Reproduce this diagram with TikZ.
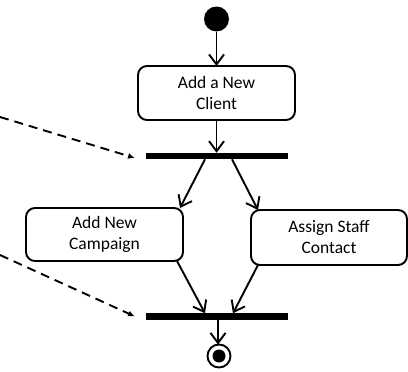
\documentclass[tikz,border=0pt]{standalone}
\usepackage{fontspec}
\setmainfont{Carlito}
\usetikzlibrary{arrows.meta}
\begin{document}
\begin{tikzpicture}[x=1pt,y=-1pt,
  every node/.style={inner sep=0pt, outer sep=0pt},
  action/.style={draw, line width=1.9pt, rounded corners=9pt, align=center,
    font=\fontsize{17.5}{21}\selectfont},
  bar/.style={fill=black, minimum width=142pt, minimum height=6.5pt},
  flow/.style={line width=1.9pt, -{Straight Barb[length=10pt,width=15pt,line width=1.9pt]}},
  note/.style={line width=1.9pt, dash pattern=on 9pt off 6pt,
    -{Latex[length=7pt,width=6pt]}}]
  \useasboundingbox (0,0) rectangle (408,372);

  % initial and final states
  \node[circle, fill=black, minimum size=25pt] (start) at (216.5,19) {};
  \node[circle, draw, line width=1.9pt, minimum size=23pt] (end) at (219,356) {};
  \node[circle, fill=black, minimum size=13pt] (endin) at (219,356) {};

  % actions
  \node[action, minimum width=157pt, minimum height=54pt] (client) at (216.5,93) {Add a New\\Client};
  \node[action, minimum width=157pt, minimum height=53pt] (campaign) at (104.5,234.5) {Add New\\Campaign};
  \node[action, minimum width=156pt, minimum height=55pt] (staff) at (329,237.5) {Assign Staff\\Contact};

  % fork and join bars
  \node[bar] (fork) at (217,156) {};
  \node[bar] (join) at (217,316.5) {};

  % control flows
  \draw[flow] (start) -- (client.north -| start);
  \draw[flow] (client.south) -- (fork.north -| client.south);
  \draw[flow] ([xshift=-12pt]fork.south) -- ([xshift=-3pt]campaign.north east);
  \draw[flow] ([xshift=15pt]fork.south) -- ([xshift=7pt]staff.north west);
  \draw[flow] ([xshift=-6pt]campaign.south east) -- ([xshift=-12pt]join.north);
  \draw[flow] ([xshift=7pt]staff.south west) -- ([xshift=16pt]join.north);
  \draw[flow] ([xshift=1pt]join.south) -- ([xshift=1pt]end.north -| join.south);

  % dashed pointers to the bars
  \coordinate (p1) at (0,117);
  \coordinate (p2) at (0,255);
  \draw[note] (p1) -- ([xshift=-11pt,yshift=-2pt]fork.west);
  \draw[note] (p2) -- ([xshift=-11pt]join.west);
\end{tikzpicture}
\end{document}
